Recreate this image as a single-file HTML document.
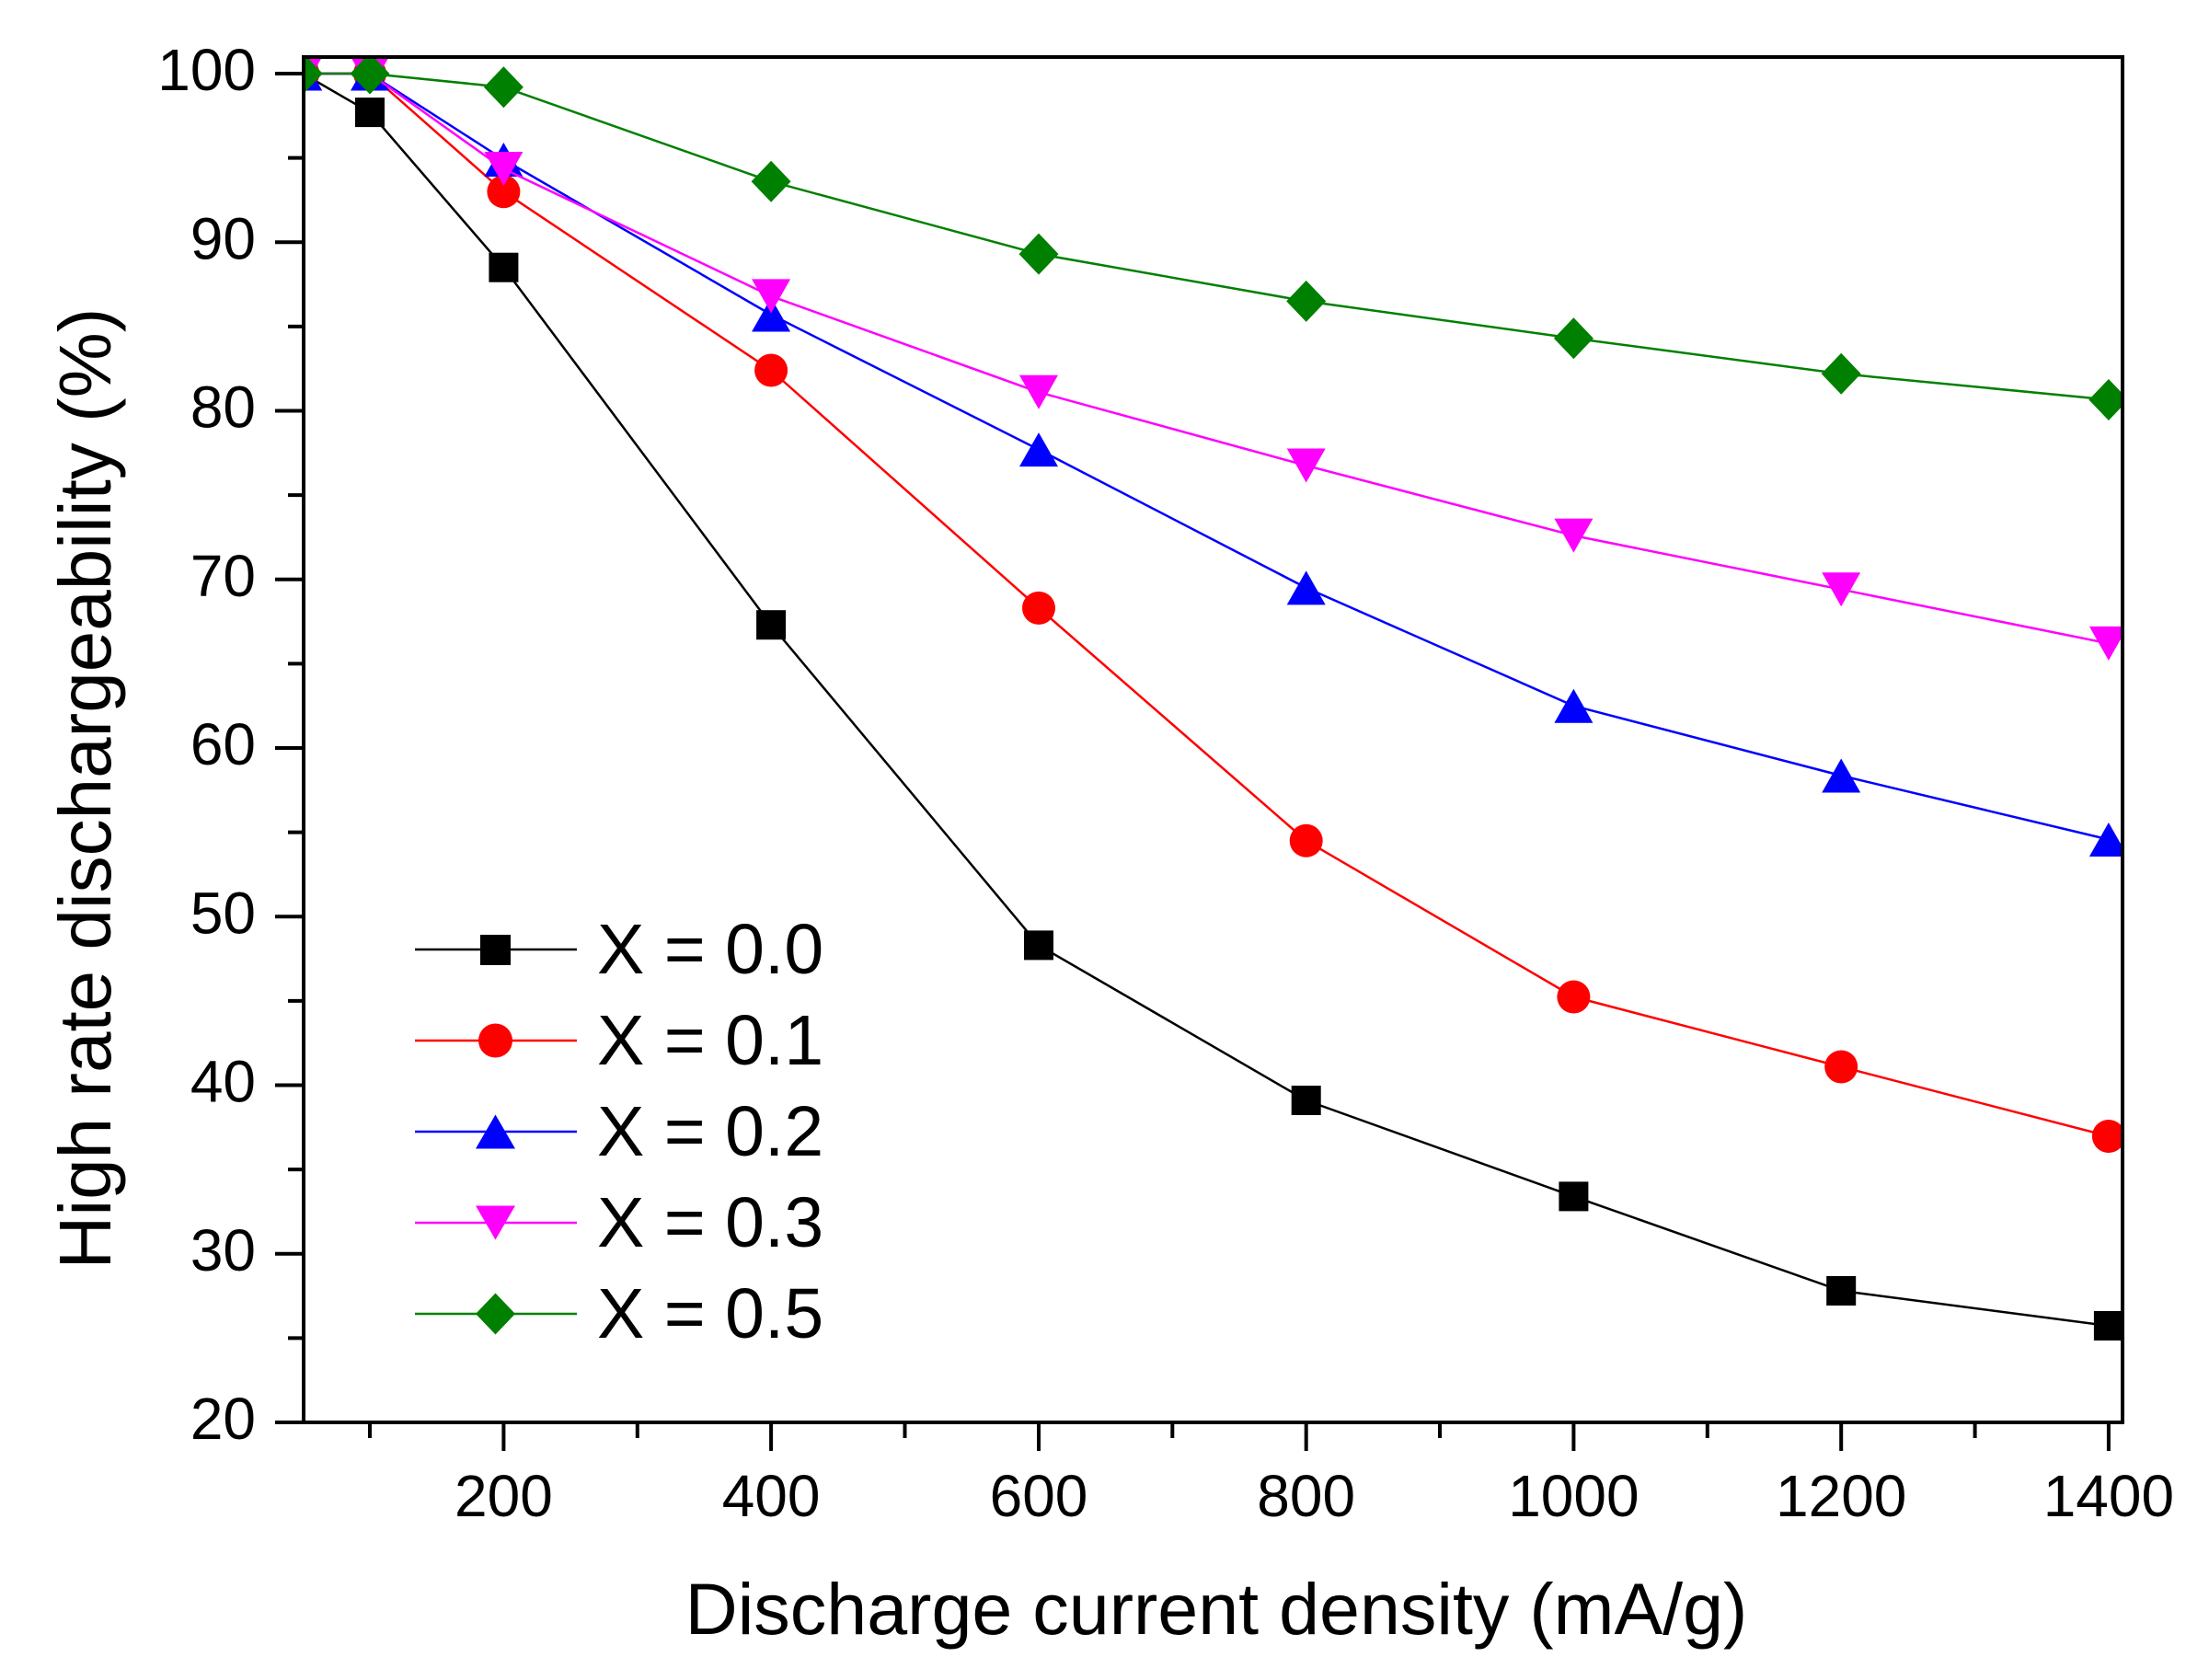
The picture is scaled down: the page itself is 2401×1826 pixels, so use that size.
<!DOCTYPE html>
<html>
<head>
<meta charset="utf-8">
<style>
html,body{margin:0;padding:0;background:#fff;}
svg{display:block;}
text{font-family:"Liberation Sans", Arial, sans-serif;fill:#000;}
</style>
</head>
<body>
<svg width="2401" height="1826" viewBox="0 0 2401 1826" xmlns="http://www.w3.org/2000/svg">
<defs>
<clipPath id="pa"><rect x="330" y="62" width="1977" height="1484"/></clipPath>
</defs>
<rect x="0" y="0" width="2401" height="1826" fill="#fff"/>

<g clip-path="url(#pa)" stroke-linejoin="round">
<!-- X = 0.0 black -->
<polyline fill="none" stroke="#000" stroke-width="2.5" points="329.3,80 402,122.1 547.4,290.7 838.1,679.2 1129,1027.4 1419.7,1196 1710.4,1300.4 2001.2,1403 2291.9,1441"/>
<g fill="#000">
<rect x="313.3" y="64" width="32" height="32"/>
<rect x="386" y="106.1" width="32" height="32"/>
<rect x="531.4" y="274.7" width="32" height="32"/>
<rect x="822.1" y="663.2" width="32" height="32"/>
<rect x="1113" y="1011.4" width="32" height="32"/>
<rect x="1403.7" y="1180" width="32" height="32"/>
<rect x="1694.4" y="1284.4" width="32" height="32"/>
<rect x="1985.2" y="1387" width="32" height="32"/>
<rect x="2275.9" y="1425" width="32" height="32"/>
</g>
<!-- X = 0.1 red -->
<polyline fill="none" stroke="#f00" stroke-width="2.5" points="329.3,80 402,80 547.4,208.3 838.1,402.5 1129,660.9 1419.7,913.8 1710.4,1083.5 2001.2,1159.5 2291.9,1235"/>
<g fill="#f00">
<circle cx="329.3" cy="80" r="18"/>
<circle cx="402" cy="80" r="18"/>
<circle cx="547.4" cy="208.3" r="18"/>
<circle cx="838.1" cy="402.5" r="18"/>
<circle cx="1129" cy="660.9" r="18"/>
<circle cx="1419.7" cy="913.8" r="18"/>
<circle cx="1710.4" cy="1083.5" r="18"/>
<circle cx="2001.2" cy="1159.5" r="18"/>
<circle cx="2291.9" cy="1235" r="18"/>
</g>
<!-- X = 0.2 blue -->
<polyline fill="none" stroke="#00f" stroke-width="2.5" points="329.3,80 402,80 547.4,173.5 838.1,342 1129,488.6 1419.7,638.9 1710.4,767.2 2001.2,843 2291.9,912.5"/>
<g fill="#00f">
<polygon points="329.3,61.5 308.3,98.5 350.3,98.5"/>
<polygon points="402,61.5 381,98.5 423,98.5"/>
<polygon points="547.4,155 526.4,192 568.4,192"/>
<polygon points="838.1,323.5 817.1,360.5 859.1,360.5"/>
<polygon points="1129,470.1 1108,507.1 1150,507.1"/>
<polygon points="1419.7,620.4 1398.7,657.4 1440.7,657.4"/>
<polygon points="1710.4,748.7 1689.4,785.7 1731.4,785.7"/>
<polygon points="2001.2,824.5 1980.2,861.5 2022.2,861.5"/>
<polygon points="2291.9,894 2270.9,931 2312.9,931"/>
</g>
<!-- X = 0.3 magenta -->
<polyline fill="none" stroke="#f0f" stroke-width="2.5" points="329.3,80 402,80 547.4,183.5 838.1,321.9 1129,426.3 1419.7,506 1710.4,582.1 2001.2,640.7 2291.9,699.4"/>
<g fill="#f0f">
<polygon points="308.3,61.5 350.3,61.5 329.3,98.5"/>
<polygon points="381,61.5 423,61.5 402,98.5"/>
<polygon points="526.4,165 568.4,165 547.4,202"/>
<polygon points="817.1,303.4 859.1,303.4 838.1,340.4"/>
<polygon points="1108,407.8 1150,407.8 1129,444.8"/>
<polygon points="1398.7,487.5 1440.7,487.5 1419.7,524.5"/>
<polygon points="1689.4,563.6 1731.4,563.6 1710.4,600.6"/>
<polygon points="1980.2,622.2 2022.2,622.2 2001.2,659.2"/>
<polygon points="2270.9,680.9 2312.9,680.9 2291.9,717.9"/>
</g>
<!-- X = 0.5 green -->
<polyline fill="none" stroke="#008000" stroke-width="2.5" points="329.3,80 402,80 547.4,94.7 838.1,197.3 1129,276.1 1419.7,327.4 1710.4,367.7 2001.2,406.2 2291.9,434.5"/>
<g fill="#008000">
<polygon points="329.3,57.5 350.8,80 329.3,102.5 307.8,80"/>
<polygon points="402,57.5 423.5,80 402,102.5 380.5,80"/>
<polygon points="547.4,72.2 568.9,94.7 547.4,117.2 525.9,94.7"/>
<polygon points="838.1,174.8 859.6,197.3 838.1,219.8 816.6,197.3"/>
<polygon points="1129,253.6 1150.5,276.1 1129,298.6 1107.5,276.1"/>
<polygon points="1419.7,304.9 1441.2,327.4 1419.7,349.9 1398.2,327.4"/>
<polygon points="1710.4,345.2 1731.9,367.7 1710.4,390.2 1688.9,367.7"/>
<polygon points="2001.2,383.7 2022.7,406.2 2001.2,428.7 1979.7,406.2"/>
<polygon points="2291.9,412 2313.4,434.5 2291.9,457 2270.4,434.5"/>
</g>
</g>

<!-- axes frame -->
<rect x="330" y="62" width="1977" height="1484" fill="none" stroke="#000" stroke-width="4"/>

<!-- y ticks -->
<g stroke="#000" stroke-width="4">
<line x1="299" y1="80" x2="330" y2="80"/>
<line x1="299" y1="263.25" x2="330" y2="263.25"/>
<line x1="299" y1="446.5" x2="330" y2="446.5"/>
<line x1="299" y1="629.75" x2="330" y2="629.75"/>
<line x1="299" y1="813" x2="330" y2="813"/>
<line x1="299" y1="996.25" x2="330" y2="996.25"/>
<line x1="299" y1="1179.5" x2="330" y2="1179.5"/>
<line x1="299" y1="1362.75" x2="330" y2="1362.75"/>
<line x1="299" y1="1546" x2="330" y2="1546"/>
<line x1="313" y1="171.6" x2="330" y2="171.6"/>
<line x1="313" y1="354.9" x2="330" y2="354.9"/>
<line x1="313" y1="538.1" x2="330" y2="538.1"/>
<line x1="313" y1="721.4" x2="330" y2="721.4"/>
<line x1="313" y1="904.6" x2="330" y2="904.6"/>
<line x1="313" y1="1087.9" x2="330" y2="1087.9"/>
<line x1="313" y1="1271.1" x2="330" y2="1271.1"/>
<line x1="313" y1="1454.4" x2="330" y2="1454.4"/>
</g>
<!-- x ticks -->
<g stroke="#000" stroke-width="4">
<line x1="547.4" y1="1546" x2="547.4" y2="1577"/>
<line x1="838.1" y1="1546" x2="838.1" y2="1577"/>
<line x1="1129" y1="1546" x2="1129" y2="1577"/>
<line x1="1419.7" y1="1546" x2="1419.7" y2="1577"/>
<line x1="1710.4" y1="1546" x2="1710.4" y2="1577"/>
<line x1="2001.2" y1="1546" x2="2001.2" y2="1577"/>
<line x1="2291.9" y1="1546" x2="2291.9" y2="1577"/>
<line x1="402" y1="1546" x2="402" y2="1563"/>
<line x1="692.8" y1="1546" x2="692.8" y2="1563"/>
<line x1="983.5" y1="1546" x2="983.5" y2="1563"/>
<line x1="1274.3" y1="1546" x2="1274.3" y2="1563"/>
<line x1="1565" y1="1546" x2="1565" y2="1563"/>
<line x1="1855.8" y1="1546" x2="1855.8" y2="1563"/>
<line x1="2146.6" y1="1546" x2="2146.6" y2="1563"/>
</g>

<!-- y tick labels -->
<g font-size="64" text-anchor="end">
<text x="278" y="98">100</text>
<text x="278" y="281.25">90</text>
<text x="278" y="464.5">80</text>
<text x="278" y="647.75">70</text>
<text x="278" y="831">60</text>
<text x="278" y="1014.25">50</text>
<text x="278" y="1197.5">40</text>
<text x="278" y="1380.75">30</text>
<text x="278" y="1564">20</text>
</g>
<!-- x tick labels -->
<g font-size="64" text-anchor="middle">
<text x="547.4" y="1648">200</text>
<text x="838.1" y="1648">400</text>
<text x="1129" y="1648">600</text>
<text x="1419.7" y="1648">800</text>
<text x="1710.4" y="1648">1000</text>
<text x="2001.2" y="1648">1200</text>
<text x="2291.9" y="1648">1400</text>
</g>

<!-- axis titles -->
<text x="1322" y="1776" font-size="79" text-anchor="middle">Discharge current density (mA/g)</text>
<text transform="translate(120,857) rotate(-90)" font-size="80" text-anchor="middle">High rate dischargeability (%)</text>

<!-- legend -->
<g stroke-width="2.5">
<line x1="451" y1="1032" x2="627" y2="1032" stroke="#000"/>
<line x1="451" y1="1131" x2="627" y2="1131" stroke="#f00"/>
<line x1="451" y1="1230" x2="627" y2="1230" stroke="#00f"/>
<line x1="451" y1="1329" x2="627" y2="1329" stroke="#f0f"/>
<line x1="451" y1="1428" x2="627" y2="1428" stroke="#008000"/>
</g>
<rect x="522" y="1016" width="33" height="33" fill="#000"/>
<circle cx="538.5" cy="1131" r="18.5" fill="#f00"/>
<polygon points="538.5,1211.5 517,1248.5 560,1248.5" fill="#00f"/>
<polygon points="517,1310.5 560,1310.5 538.5,1347.5" fill="#f0f"/>
<polygon points="538.5,1405.5 560,1428 538.5,1450.5 517,1428" fill="#008000"/>
<g font-size="77">
<text x="649" y="1058">X = 0.0</text>
<text x="649" y="1157">X = 0.1</text>
<text x="649" y="1256">X = 0.2</text>
<text x="649" y="1355">X = 0.3</text>
<text x="649" y="1454">X = 0.5</text>
</g>
</svg>
</body>
</html>
